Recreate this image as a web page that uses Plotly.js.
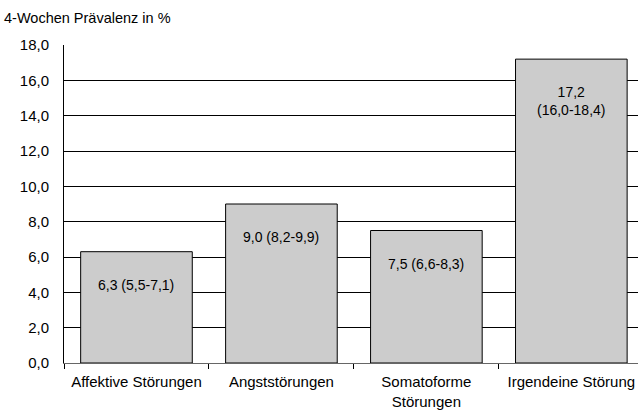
<!DOCTYPE html>
<html>
<head>
<meta charset="utf-8">
<script src="https://cdn.plot.ly/plotly-3.0.1.min.js"></script>
<style>html,body{margin:0;padding:0;background:#fff;}#chart{width:638px;height:414px;}</style>
</head>
<body>
<div id="chart"></div>
<script>
var categories = ["Affektive Störungen", "Angststörungen", "Somatoforme<br>Störungen", "Irgendeine Störung"];
var values = [6.3, 9.0, 7.5, 17.2];
var barLabels = ["6,3 (5,5-7,1)", "9,0 (8,2-9,9)", "7,5 (6,6-8,3)", "17,2<br>(16,0-18,4)"];
var yTicks = [0, 2, 4, 6, 8, 10, 12, 14, 16, 18];

var font = "Liberation Sans, Arial, Helvetica, sans-serif";

var trace = {
  type: "bar",
  x: categories,
  y: values,
  width: 0.77,
  marker: {color: "#cccccc", line: {color: "#000000", width: 1}},
  hoverinfo: "none"
};

var annotations = categories.map(function(c, i) {
  return {
    x: c, y: values[i], xref: "x", yref: "y",
    text: barLabels[i], showarrow: false,
    yanchor: "top", xanchor: "center", yshift: -23,
    font: {family: font, size: 14, color: "#000"}
  };
});
annotations.push({
  xref: "paper", yref: "paper", x: -62/574, y: 1 + 27/318,
  xanchor: "left", yanchor: "middle", showarrow: false,
  text: "4-Wochen Prävalenz in %",
  font: {family: font, size: 14.5, color: "#000"}
});

var layout = {
  width: 638, height: 414,
  margin: {l: 64, r: 0, t: 45, b: 51},
  paper_bgcolor: "#fff", plot_bgcolor: "#fff",
  separators: ",.",
  showlegend: false,
  font: {family: font, size: 15, color: "#000"},
  xaxis: {
    type: "category",
    range: [-0.5, 3.46],
    tickson: "boundaries",
    ticks: "outside", ticklen: 5, tickcolor: "#000",
    ticklabelstandoff: 5,
    showline: true, linecolor: "#666", linewidth: 1,
    showgrid: false, zeroline: false,
    tickfont: {family: font, size: 15, color: "#000"}
  },
  yaxis: {
    range: [0, 18],
    tickvals: yTicks,
    tickformat: ".1f",
    ticks: "", ticklabelstandoff: 11,
    showline: true, linecolor: "#000", linewidth: 1,
    showgrid: true, gridcolor: "#000", gridwidth: 1,
    zeroline: false,
    tickfont: {family: font, size: 15, color: "#000"}
  },
  annotations: annotations
};

Plotly.newPlot("chart", [trace], layout, {displayModeBar: false, staticPlot: true});
</script>
</body>
</html>
